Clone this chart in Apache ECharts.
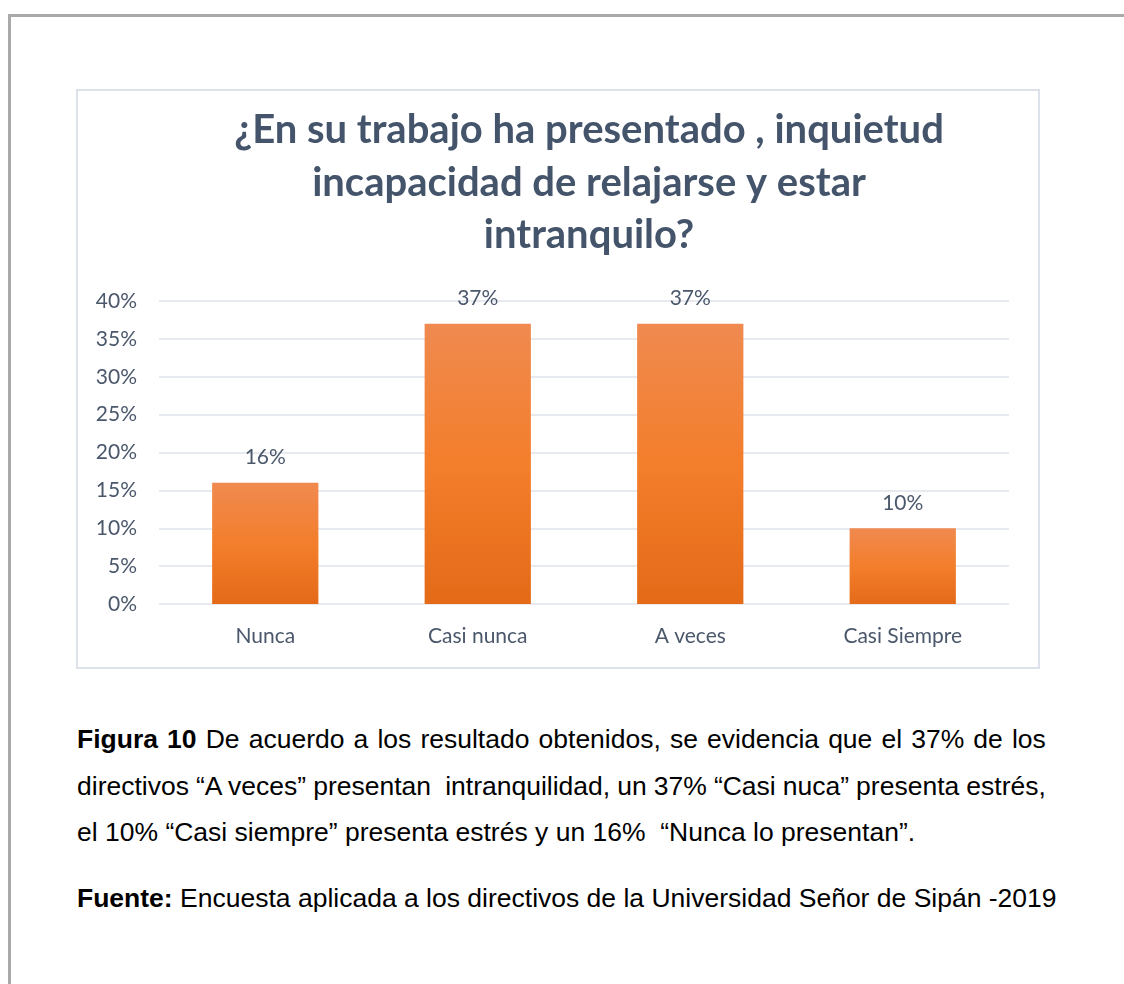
<!DOCTYPE html>
<html>
<head>
<meta charset="utf-8">
<script src="https://cdn.jsdelivr.net/npm/echarts@6/dist/echarts.min.js"></script>
<style>
  html, body { margin: 0; padding: 0; background: #fff; }
  body { width: 1124px; height: 984px; position: relative; overflow: hidden; }
  #frame { position: absolute; left: 8px; top: 14px; width: 1200px; height: 1000px;
           border-left: 3px solid #a9a9a9; border-top: 3px solid #a9a9a9; }
  #box { position: absolute; left: 76px; top: 89px; width: 960px; height: 576px;
         border: 2px solid #dde2ea; }
  #chart { width: 960px; height: 576px; }
  .cap { position: absolute; left: 77px; width: 914px; font-family: "Liberation Sans", Arial, sans-serif;
         font-size: 25px; color: #000; transform: scaleX(1.06); transform-origin: 0 0; }
  .cap div { height: 46.5px; line-height: 46.5px; white-space: pre; }
  .cap .j { text-align: justify; text-align-last: justify; white-space: pre-wrap; word-spacing: -4px; }
</style>
</head>
<body>
<div id="frame"></div>
<div id="box"><div id="chart"></div></div>
<div class="cap" style="top:716px">
  <div class="j"><b>Figura 10</b> De acuerdo a los resultado obtenidos, se evidencia que el 37% de los</div>
  <div class="j">directivos “A veces” presentan  intranquilidad, un 37% “Casi nuca” presenta estrés,</div>
  <div>el 10% “Casi siempre” presenta estrés y un 16%  “Nunca lo presentan”.</div>
</div>
<div class="cap" style="top:875px">
  <div><b>Fuente:</b> Encuesta aplicada a los directivos de la Universidad Señor de Sipán -2019</div>
</div>
<script>
"use strict";

var titleText = "¿En su trabajo ha presentado , inquietud\nincapacidad de relajarse y estar\nintranquilo?";
var categories = ["Nunca", "Casi nunca", "A veces", "Casi Siempre"];
var percentValues = [0.16, 0.37, 0.37, 0.10];
var yMin = 0, yMax = 0.4, yStep = 0.05;

var textColor = "#4b586c";
var gridColor = "#dfe3ea";

function pct(v){
  return Math.round(v * 100) + "%";
}

var chart = echarts.init(document.getElementById("chart"), null, {renderer: "canvas"});

chart.setOption({
  animation: false,
  title: {
    text: titleText,
    left: 506,
    top: 8,
    textAlign: "center",
    textStyle: {
      fontFamily: "Lato",
      fontWeight: "bold",
      fontSize: 40,
      lineHeight: 52.5,
      color: "#44546a"
    }
  },
  grid: { left: 81, right: 29, top: 210, bottom: 63 },
  xAxis: {
    type: "category",
    data: categories,
    axisLine: { show: false },
    axisTick: { show: false },
    axisLabel: {
      margin: 22,
      fontFamily: "Lato",
      fontSize: 21,
      color: textColor
    }
  },
  yAxis: {
    type: "value",
    min: yMin,
    max: yMax,
    interval: yStep,
    axisLine: { show: false },
    axisTick: { show: false },
    splitLine: { lineStyle: { color: gridColor, width: 1.5 } },
    axisLabel: {
      margin: 22,
      fontFamily: "Lato",
      fontSize: 21,
      color: textColor,
      formatter: pct
    }
  },
  series: [{
    type: "bar",
    data: percentValues,
    barWidth: "50%",
    itemStyle: {
      color: new echarts.graphic.LinearGradient(0, 0, 0, 1, [
        { offset: 0, color: "#f08a50" },
        { offset: 0.5, color: "#f37e2b" },
        { offset: 1, color: "#e46a18" }
      ])
    },
    label: {
      show: true,
      position: "top",
      distance: 15,
      fontFamily: "Lato",
      fontSize: 21,
      color: textColor,
      formatter: function(p){ return pct(p.value); }
    }
  }]
});
</script>
</body>
</html>
